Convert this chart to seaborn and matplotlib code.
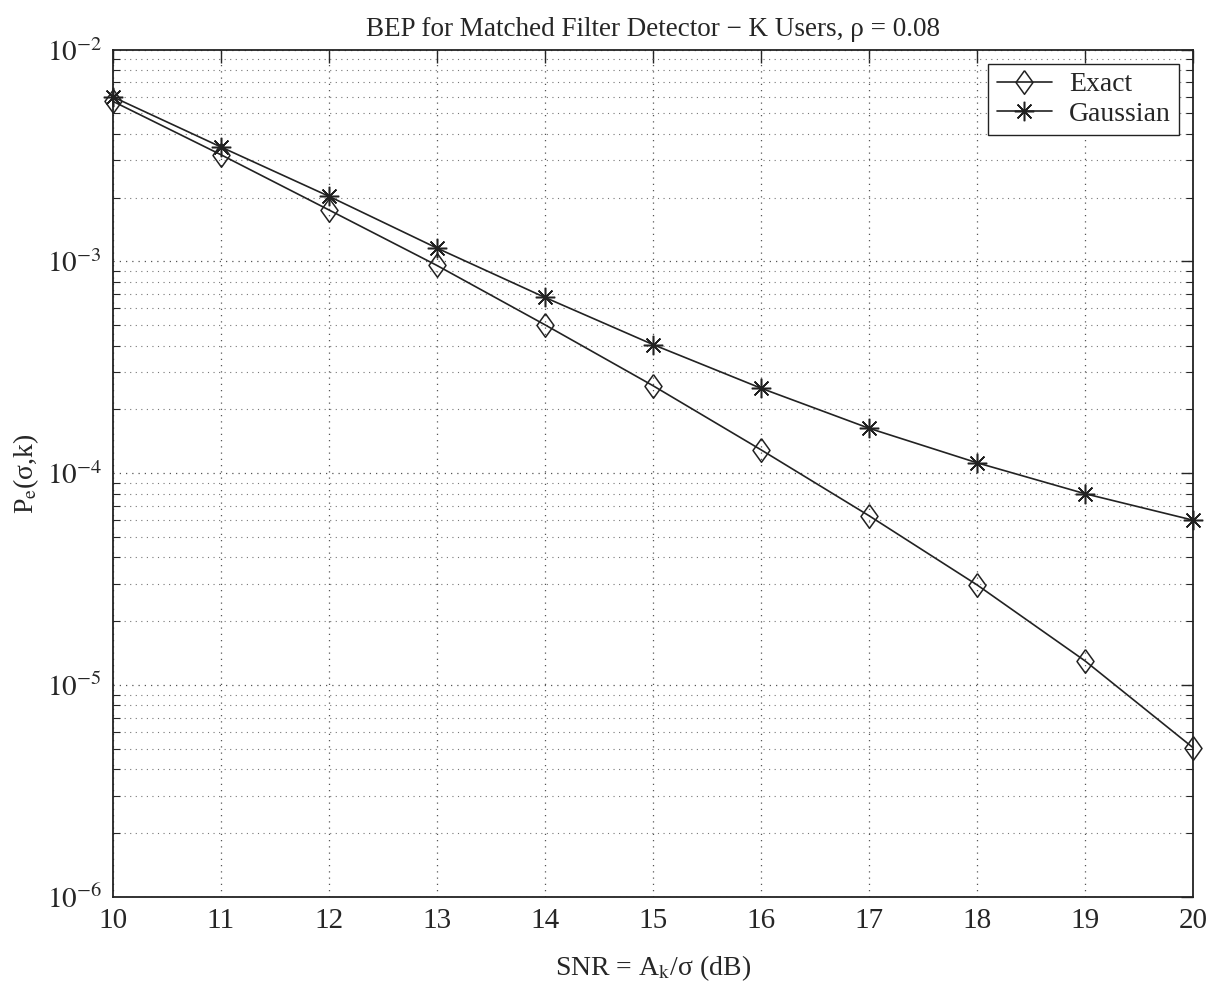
import numpy as np
import pandas as pd
import matplotlib
matplotlib.use("Agg")
import matplotlib.pyplot as plt
import seaborn as sns
from matplotlib.ticker import LogLocator, NullFormatter, FixedLocator


snr_db = [10, 11, 12, 13, 14, 15, 16, 17, 18, 19, 20]

pe_exact = [5.7e-3, 3.19e-3, 1.75e-3, 9.57e-4, 5.02e-4, 2.59e-4,
            1.29e-4, 6.3e-5, 2.97e-5, 1.30e-5, 5.06e-6]
pe_gauss = [5.98e-3, 3.47e-3, 2.03e-3, 1.156e-3, 6.76e-4, 4.05e-4,
            2.52e-4, 1.63e-4, 1.12e-4, 8.0e-5, 6.0e-5]

series_names = ["Exact", "Gaussian"]
y_ticks = [1e-6, 1e-5, 1e-4, 1e-3, 1e-2]


sns.set_style("white")
plt.rcParams["font.family"] = ["Liberation Serif", "DejaVu Serif"]
plt.rcParams["mathtext.fontset"] = "stix"

df = pd.DataFrame({
    "snr": snr_db * 2,
    "pe": pe_exact + pe_gauss,
    "series": [series_names[0]] * len(snr_db) + [series_names[1]] * len(snr_db),
})

# MATLAB-like diamond, a bit narrower than a square
diamond = [(0, 1), (0.72, 0), (0, -1), (-0.72, 0), (0, 1)]

fig = plt.figure(figsize=(12.21, 9.93), dpi=100)
ax = fig.add_axes([0.0925, 0.097, 0.8845, 0.853])

line_kw = dict(color="#222222", linewidth=1.2, clip_on=False)
sns.lineplot(data=df[df.series == "Exact"], x="snr", y="pe", ax=ax,
             marker=diamond, markersize=17, markerfacecolor="none",
             markeredgecolor="#222222", markeredgewidth=1.1,
             label="Exact", **line_kw)
sns.lineplot(data=df[df.series == "Gaussian"], x="snr", y="pe", ax=ax,
             marker=(8, 2, 0), markersize=14,
             markeredgecolor="#222222", markeredgewidth=1.1,
             label="Gaussian", **line_kw)

ax.set_yscale("log")
ax.set_xlim(10, 20)
ax.set_ylim(1e-6, 1e-2)
ax.xaxis.set_major_locator(FixedLocator(snr_db))
ax.yaxis.set_major_locator(FixedLocator(y_ticks))
ax.yaxis.set_minor_locator(LogLocator(base=10, subs=np.arange(2, 10)))
ax.yaxis.set_minor_formatter(NullFormatter())
ax.set_yticklabels([r"$10^{-6}$", r"$10^{-5}$", r"$10^{-4}$",
                    r"$10^{-3}$", r"$10^{-2}$"])

ax.tick_params(axis="both", which="major", direction="in", length=9,
               width=1.0, labelsize=21, top=True, right=True, pad=8)
ax.tick_params(axis="y", which="minor", direction="in", length=5,
               width=0.8, left=True, right=True)

ax.grid(True, which="major", linestyle=(0, (1, 4)), color="#555555", linewidth=0.9)
ax.grid(True, which="minor", axis="y", linestyle=(0, (1, 4)), color="#777777", linewidth=0.8)

for sp in ax.spines.values():
    sp.set_color("#222222")
    sp.set_linewidth(1.3)

ax.set_title("BEP for Matched Filter Detector \u2212 K Users, \u03c1 = 0.08",
             fontsize=19.5, pad=10)
ax.set_xlabel("SNR = A$_\\mathrm{k}$/\u03c3 (dB)", fontsize=20, labelpad=14)
ax.set_ylabel("P$_\\mathrm{e}$(\u03c3,k)", fontsize=20, labelpad=4)

leg = ax.legend(loc="upper right", fontsize=20, frameon=True, fancybox=False,
                edgecolor="#222222", framealpha=1, handlelength=2.0,
                borderpad=0.3, labelspacing=0.15, borderaxespad=0.5,
                handletextpad=0.6)
leg.get_frame().set_linewidth(1.0)

fig.savefig("out.png", dpi=100)
